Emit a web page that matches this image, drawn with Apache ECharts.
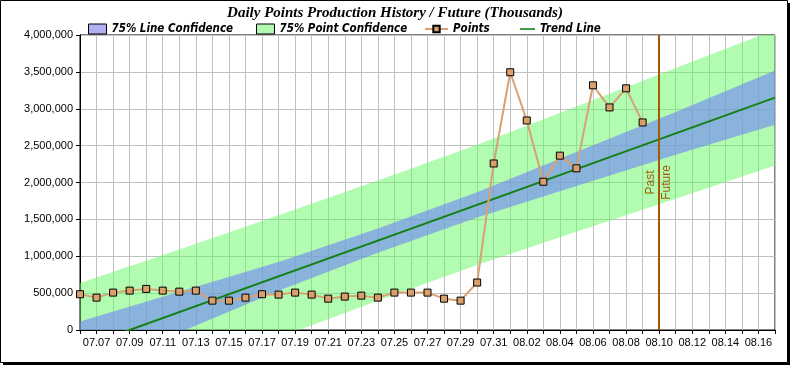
<!DOCTYPE html>
<html>
<head>
<meta charset="utf-8">
<script src="https://cdn.jsdelivr.net/npm/echarts@6/dist/echarts.min.js"></script>
<style>
  html, body { margin: 0; padding: 0; background: #fff; }
  #chart { width: 790px; height: 365px; }
</style>
</head>
<body>
<div id="chart"></div>
<script>
// ---------------- DATA ----------------
const categories = [
  '07.06','07.07','07.08','07.09','07.10','07.11','07.12','07.13','07.14','07.15',
  '07.16','07.17','07.18','07.19','07.20','07.21','07.22','07.23','07.24','07.25',
  '07.26','07.27','07.28','07.29','07.30','07.31',
  '08.01','08.02','08.03','08.04','08.05','08.06','08.07','08.08','08.09','08.10',
  '08.11','08.12','08.13','08.14','08.15','08.16','08.17'
];

// daily points, 07.06 .. 08.09
const pointValues = [
  485000, 439000, 507000, 534000, 557000, 534000, 520000, 534000, 398000, 398000,
  439000, 485000, 480000, 507000, 480000, 425000, 453000, 466000, 439000, 507000,
  507000, 507000, 425000, 398000, 644000, 2258000,
  3495000, 2841000, 2010000, 2364000, 2192000, 3318000, 3018000, 3277000, 2814000
];

// trend line end points
const trendCats = ['07.06', '08.17'];
const trendValues = [-242000, 3151000];

// confidence band edges read at sample dates
const bandCats = ['07.06','07.12','07.18','07.24','07.30','08.05','08.11','08.17'];
const lineConfUpper  = [114000, 519000, 922000, 1377000, 1867000, 2412000, 2956000, 3520000];
const lineConfLower  = [-598000, -35000, 532000, 1047000, 1527000, 1952000, 2376000, 2782000];
const pointConfUpper = [638000, 1092000, 1557000, 2027000, 2512000, 3032000, 3551000, 4071000];
const pointConfLower = [-1122000, -608000, -103000, 397000, 882000, 1332000, 1781000, 2231000];

const dividerCat = '08.10';
const yTicks = { min: 0, max: 4000000, interval: 500000 };

// ---------------- CHART ----------------
const chart = echarts.init(document.getElementById('chart'), null, { renderer: 'canvas' });

const sansFont = "'Liberation Sans', Arial, sans-serif";
const legendFont = "'Liberation Sans Narrow', 'DejaVu Sans Condensed', 'Liberation Sans', sans-serif";
const brown = '#a35a00';

function bandSeries(name, lower, upper, fill) {
  return {
    type: 'custom',
    name: name,
    silent: true,
    z: 1,
    data: bandCats.map((c, i) => [categories.indexOf(c), lower[i], upper[i]]),
    encode: { x: 0, y: [1, 2] },
    renderItem: function (params, api) {
      if (params.dataIndex !== 0) return null;
      const top = bandCats.map((c, i) => api.coord([categories.indexOf(c), upper[i]]));
      const bot = bandCats.map((c, i) => api.coord([categories.indexOf(c), lower[i]])).reverse();
      const cs = params.coordSys;
      return {
        type: 'group',
        clipPath: { type: 'rect', shape: { x: cs.x, y: cs.y, width: cs.width, height: cs.height } },
        children: [{
          type: 'polygon',
          shape: { points: top.concat(bot) },
          style: { fill: fill }
        }]
      };
    }
  };
}

const legendText = { fontFamily: legendFont, fontWeight: 'bold', fontStyle: 'italic', fontSize: 11.5, color: '#000' };

const option = {
  animation: false,
  backgroundColor: '#fff',
  title: {
    text: 'Daily Points Production History / Future (Thousands)',
    left: 'center',
    top: 1,
    textStyle: { fontFamily: "'Liberation Serif', 'Times New Roman', serif", fontWeight: 'bold', fontStyle: 'italic', fontSize: 15, color: '#000' }
  },
  legend: [
    { left: 83, top: 18, itemWidth: 18, itemHeight: 10, selectedMode: false, textStyle: legendText,
      data: [{ name: '75% Line Confidence', icon: 'rect', itemStyle: { color: '#b0b0f2', borderColor: '#000', borderWidth: 1 } }] },
    { left: 251, top: 18, itemWidth: 18, itemHeight: 10, selectedMode: false, textStyle: legendText,
      data: [{ name: '75% Point Confidence', icon: 'rect', itemStyle: { color: '#b2fab2', borderColor: '#000', borderWidth: 1 } }] },
    { left: 419, top: 18, itemWidth: 23, itemHeight: 8, selectedMode: false, textStyle: legendText,
      data: [{ name: 'Points' }] },
    { left: 515, top: 18, itemWidth: 15, itemHeight: 10, selectedMode: false, textStyle: legendText,
      data: [{ name: 'Trend Line', icon: 'path://M0,4.2L15,4.2L15,5.8L0,5.8Z', itemStyle: { color: '#138013' } }] }
  ],
  grid: { left: 80, top: 35, width: 695, height: 295, show: true, borderColor: '#000', borderWidth: 1, backgroundColor: 'transparent' },
  xAxis: {
    type: 'category',
    data: categories,
    boundaryGap: false,
    axisLine: { lineStyle: { color: '#000', width: 1 } },
    axisTick: { interval: 0, length: 4, lineStyle: { color: '#000' } },
    axisLabel: {
      interval: function (i) { return i % 2 === 1; },
      fontFamily: sansFont, fontSize: 11, color: '#000', margin: 7
    },
    splitLine: { show: true, interval: 0, lineStyle: { color: '#c0c0c0', width: 1 } }
  },
  yAxis: {
    type: 'value',
    min: yTicks.min, max: yTicks.max, interval: yTicks.interval,
    axisLine: { show: true, lineStyle: { color: '#000', width: 1 } },
    axisTick: { show: true, length: 4, lineStyle: { color: '#000' } },
    axisLabel: { fontFamily: sansFont, fontSize: 11, color: '#000', margin: 7 },
    splitLine: { show: true, lineStyle: { color: '#c0c0c0', width: 1 } }
  },
  series: [
    bandSeries('75% Point Confidence', pointConfLower, pointConfUpper, 'rgba(101,249,101,0.5)'),
    bandSeries('75% Line Confidence', lineConfLower, lineConfUpper, 'rgba(112,130,248,0.6)'),
    {
      type: 'line',
      name: 'Trend Line',
      data: trendCats.map((c, i) => [c, trendValues[i]]),
      symbol: 'none',
      clip: true,
      z: 3,
      lineStyle: { color: '#138013', width: 2 },
      itemStyle: { color: '#138013' }
    },
    {
      type: 'line',
      name: 'Points',
      data: pointValues,
      symbol: 'rect',
      symbolSize: 7,
      z: 4,
      lineStyle: { color: '#d9a172', width: 2 },
      itemStyle: { color: '#d9a06c', borderColor: '#000', borderWidth: 1 },
      markLine: {
        silent: true,
        symbol: 'none',
        animation: false,
        lineStyle: { color: brown, width: 2, type: 'solid' },
        label: { color: brown, fontFamily: sansFont, fontSize: 12, distance: 2 },
        data: [
          { xAxis: dividerCat, label: { formatter: 'Past', position: 'insideMiddleTop' } },
          { xAxis: dividerCat, label: { formatter: 'Future', position: 'insideMiddleBottom' } }
        ]
      }
    }
  ],
  graphic: [
    { type: 'rect', silent: true, shape: { x: 0.5, y: 0.5, width: 787, height: 362 }, style: { fill: null, stroke: '#000', lineWidth: 1 } },
    { type: 'rect', silent: true, shape: { x: 788, y: 3, width: 2, height: 362 }, style: { fill: '#000' } },
    { type: 'rect', silent: true, shape: { x: 3, y: 363, width: 787, height: 2 }, style: { fill: '#000' } }
  ]
};

chart.setOption(option);
</script>
</body>
</html>
